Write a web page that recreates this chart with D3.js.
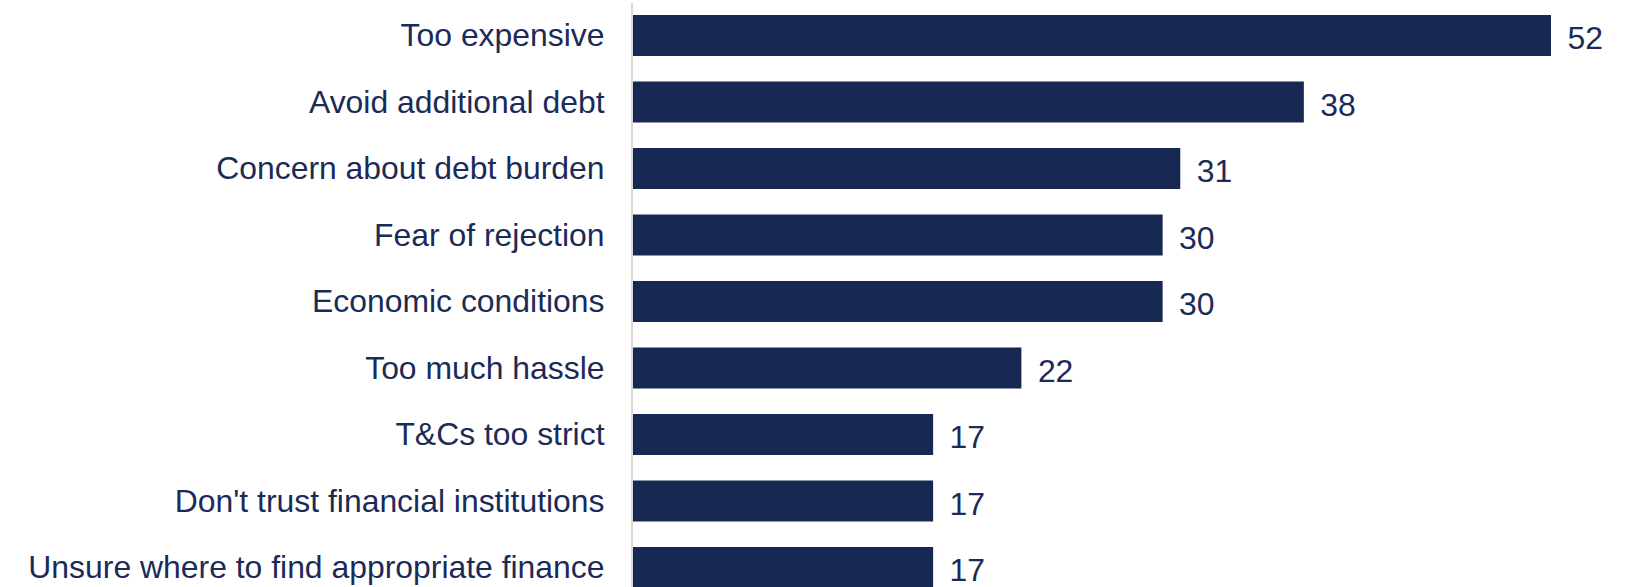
<!DOCTYPE html>
<html>
<head>
<meta charset="utf-8">
<script src="https://cdn.jsdelivr.net/npm/d3@7"></script>
<style>
  html, body { margin: 0; padding: 0; background: #ffffff; }
  svg { display: block; }
</style>
</head>
<body>
<svg id="chart" width="1632" height="587"></svg>
<script>
// Reasons for not applying for finance (%)
const categories = [
  "Too expensive",
  "Avoid additional debt",
  "Concern about debt burden",
  "Fear of rejection",
  "Economic conditions",
  "Too much hassle",
  "T&Cs too strict",
  "Don't trust financial institutions",
  "Unsure where to find appropriate finance"
];
const values = [52, 38, 31, 30, 30, 22, 17, 17, 17];

const W = 1632, H = 587;
const barColor = "#172853";
const textColor = "#1b2b57";
const font = "'Liberation Sans', Arial, sans-serif";

const svg = d3.select("#chart");

const x = d3.scaleLinear().domain([0, 52]).range([633, 1551]);
const y = d3.scaleBand().domain(categories).range([15, 588])
  .paddingInner(0.3835).paddingOuter(0);

// vertical axis line
svg.append("line")
  .attr("x1", 632).attr("x2", 632)
  .attr("y1", 3).attr("y2", H)
  .attr("stroke", "#d9d9d9")
  .attr("stroke-width", 2);

// bars
svg.append("g").selectAll("rect")
  .data(categories)
  .join("rect")
  .attr("x", x(0))
  .attr("y", d => y(d))
  .attr("width", (d, i) => x(values[i]) - x(0))
  .attr("height", y.bandwidth())
  .attr("fill", barColor);

// category labels
svg.append("g").selectAll("text")
  .data(categories)
  .join("text")
  .attr("x", 604.5)
  .attr("y", d => y(d) + y.bandwidth() / 2)
  .attr("dy", 10.7)
  .attr("text-anchor", "end")
  .attr("font-family", font)
  .attr("font-size", 31.9)
  .attr("fill", textColor)
  .text(d => d);

// value labels
svg.append("g").selectAll("text")
  .data(categories)
  .join("text")
  .attr("x", (d, i) => x(values[i]) + 16.5)
  .attr("y", d => y(d) + y.bandwidth() / 2)
  .attr("dy", 13.7)
  .attr("font-family", font)
  .attr("font-size", 31.9)
  .attr("fill", textColor)
  .text((d, i) => values[i]);
</script>
</body>
</html>
